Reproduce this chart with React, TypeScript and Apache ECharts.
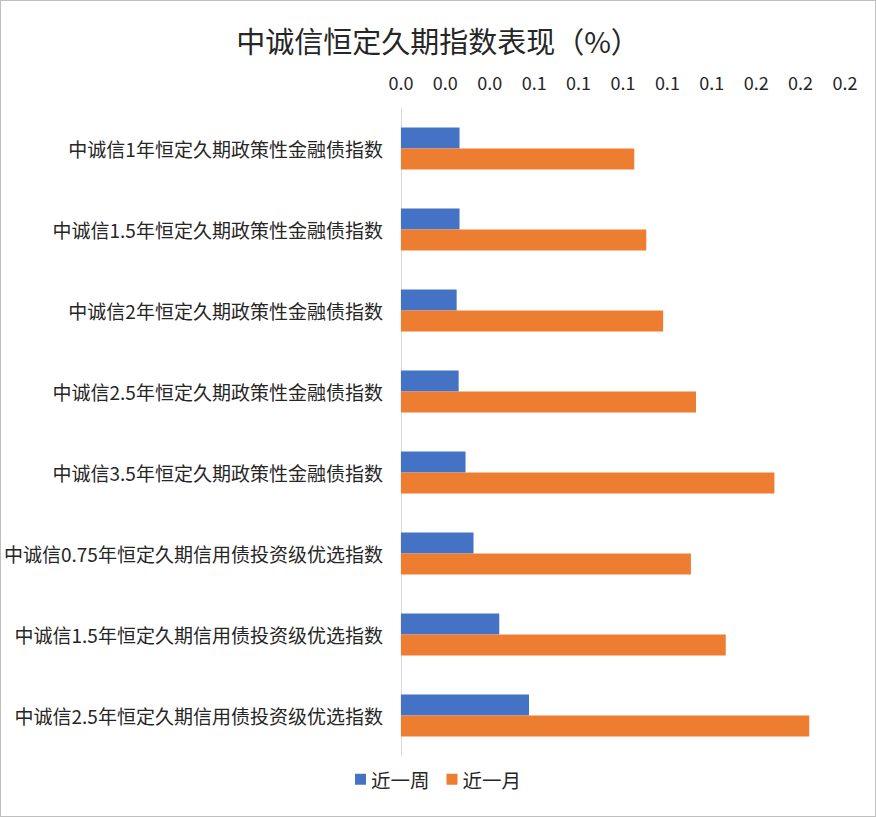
import * as echarts from "echarts";
import React, { useEffect, useRef } from "react";

const categories = [
  "中诚信1年恒定久期政策性金融债指数",
  "中诚信1.5年恒定久期政策性金融债指数",
  "中诚信2年恒定久期政策性金融债指数",
  "中诚信2.5年恒定久期政策性金融债指数",
  "中诚信3.5年恒定久期政策性金融债指数",
  "中诚信0.75年恒定久期信用债投资级优选指数",
  "中诚信1.5年恒定久期信用债投资级优选指数",
  "中诚信2.5年恒定久期信用债投资级优选指数",
];

const weekValues = [0.0264, 0.0264, 0.0251, 0.026, 0.0291, 0.0327, 0.0443, 0.0577];
const monthValues = [0.1051, 0.1105, 0.1181, 0.1329, 0.1682, 0.1306, 0.1463, 0.1839];

const seriesNames = ["近一周", "近一月"];

const FONT = "'Noto Sans CJK SC', 'Noto Sans', sans-serif";

const App: React.FC = () => {
  const chartRef = useRef<HTMLDivElement | null>(null);

  useEffect(() => {
    const chart = echarts.init(chartRef.current, undefined, { renderer: "svg" });
    chart.setOption({
      animation: false,
      backgroundColor: "#ffffff",
      textStyle: { fontFamily: FONT },
      title: {
        text: "中诚信恒定久期指数表现（%）",
        left: "center",
        top: 19,
        textStyle: { fontSize: 29, fontWeight: "normal", color: "#262626", fontFamily: FONT },
      },
      legend: {
        bottom: 22,
        left: "center",
        itemWidth: 11,
        itemHeight: 11,
        itemGap: 17,
        icon: "rect",
        textStyle: { fontSize: 19.5, color: "#262626" },
        data: seriesNames,
      },
      grid: { left: 395, right: 30, top: 107, bottom: 60 },
      xAxis: {
        type: "value",
        position: "top",
        min: 0,
        max: 0.2,
        interval: 0.02,
        axisLine: { show: false },
        axisTick: { show: false },
        splitLine: { show: false },
        axisLabel: {
          fontSize: 18,
          color: "#262626",
          margin: 17,
          formatter: (v: number) => v.toFixed(1),
        },
      },
      yAxis: {
        type: "category",
        inverse: true,
        data: categories,
        axisLine: { show: true, lineStyle: { color: "#d9d9d9", width: 1 } },
        axisTick: { show: false },
        axisLabel: { fontSize: 19, color: "#262626", margin: 18 },
      },
      series: [
        {
          name: seriesNames[0],
          type: "bar",
          data: weekValues,
          barWidth: 21,
          barGap: "0%",
          itemStyle: { color: "#4472c4" },
        },
        {
          name: seriesNames[1],
          type: "bar",
          data: monthValues,
          barWidth: 21,
          barGap: "0%",
          itemStyle: { color: "#ed7d31" },
        },
      ],
    });
    return () => {
      chart.dispose();
    };
  }, []);

  return (
    <div
      style={{
        position: "absolute",
        left: 0,
        top: 0,
        width: 876,
        height: 817,
        boxSizing: "border-box",
        border: "1px solid #bfbfbf",
        background: "#fff",
      }}
    >
      <div ref={chartRef} style={{ width: 874, height: 815 }}></div>
    </div>
  );
};

export default App;
